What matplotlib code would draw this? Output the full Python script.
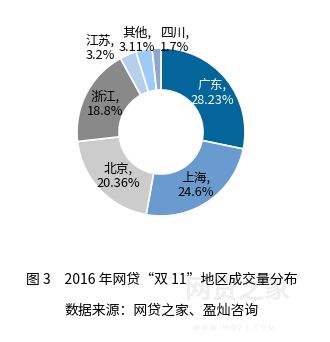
import matplotlib
matplotlib.use('Agg')
import matplotlib.pyplot as plt

plt.rcParams['font.family'] = ['Noto Sans CJK SC', 'DejaVu Sans']

# data
regions = ['广东', '上海', '北京', '浙江', '江苏', '其他', '四川']
shares = [28.23, 24.6, 20.36, 18.8, 3.2, 3.11, 1.7]
share_labels = ['28.23%', '24.6%', '20.36%', '18.8%', '3.2%', '3.11%', '1.7%']
colors = ['#03659A', '#6A9BCF', '#CCCCCC', '#898989', '#B5CFEC', '#9CCBFA', '#91A6CA']
label_colors = ['white', 'black', 'black', 'black', 'black', 'black', 'black']

W, H = 330, 342
fig = plt.figure(figsize=(W / 100, H / 100), dpi=100)

# pie centre (161, 132) px, radius 84 px
cx, cy, r = 161, 132, 84
ax = fig.add_axes([(cx - r) / W, (H - cy - r) / H, 2 * r / W, 2 * r / H])
ax.pie(shares, colors=colors, startangle=90, counterclock=False, radius=1,
       wedgeprops=dict(width=0.5, edgecolor='white', linewidth=1.2))
ax.set_xlim(-1, 1)
ax.set_ylim(-1, 1)
ax.axis('off')

# label centres in pixels
label_px = [(212, 93), (196, 185), (118, 176), (105, 104), (100, 48), (137, 40), (175, 40)]
for name, val, (px, py), c in zip(regions, share_labels, label_px, label_colors):
    ax.text((px - cx) / r, (cy - py) / r, f'{name},\n{val}', ha='center', va='center',
            fontsize=9.2, color=c, linespacing=1.15, clip_on=False)

# watermark
fig.text(238 / W, 1 - 291 / H, '网贷之家', ha='center', va='center', fontsize=19,
         color='#EFEFEF', fontweight='bold', zorder=0)
fig.text(234 / W, 1 - 328 / H, 'W W W . W D Z J . C O M', ha='center', va='center',
         fontsize=5.5, color='#EBEBEB', zorder=0)

# caption
fig.text(162 / W, 1 - 280 / H, '图 3　2016 年网贷“双 11”地区成交量分布', ha='center',
         va='center', fontsize=10, zorder=2)
fig.text(162 / W, 1 - 311 / H, '数据来源：网贷之家、盈灿咨询', ha='center',
         va='center', fontsize=10, zorder=2)

fig.savefig('out.png', dpi=100)
